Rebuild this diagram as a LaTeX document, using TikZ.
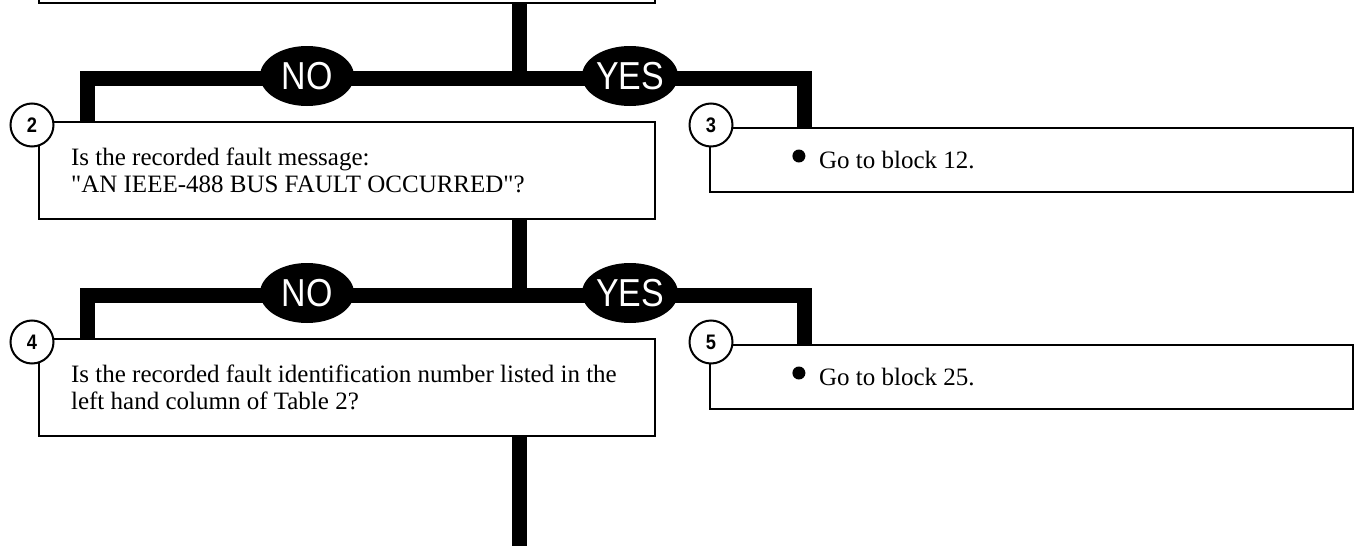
\documentclass[tikz,border=0pt]{standalone}
\usepackage{fontspec}
\setmainfont{Liberation Serif}
\newfontfamily\tagfont[FakeStretch=0.87]{Liberation Sans}
\usetikzlibrary{shapes.geometric}
\begin{document}
\begin{tikzpicture}[x=1pt,y=-1pt,
    qbox/.style={draw,line width=2.2pt,fill=white,inner sep=0pt},
    lbox/.style={qbox,minimum width=616pt,minimum height=97pt},
    rbox/.style={qbox,minimum width=643pt,minimum height=64pt},
    qtext/.style={anchor=west,inner sep=0pt,align=left,font=\fontsize{25}{27}\selectfont},
    flow/.style={line width=15pt},
    tag/.style={ellipse,fill=black,text=white,minimum width=94pt,minimum height=60pt,
      inner sep=0pt,font=\tagfont\fontsize{39}{39}\selectfont},
    num/.style={circle,draw,line width=2pt,fill=white,minimum size=43pt,inner sep=0pt,
      font=\tagfont\bfseries\fontsize{21}{21}\selectfont}]
    \useasboundingbox (0,0) rectangle (1361,546);
    \clip (0,0) rectangle (1361,546);
    \node[qbox,minimum width=616pt,minimum height=63pt] (b1) at (347,-28.5) {};
    \node[lbox] (b2) at (347,170.5) {};
    \node[rbox] (b3) at (1031.5,160) {};
    \node[lbox] (b4) at (347,387.5) {};
    \node[rbox] (b5) at (1031.5,377) {};
    \node[qtext] (t2) at ([xshift=33pt]b2.west) {Is the recorded fault message:\\\textquotedbl AN IEEE-488 BUS FAULT OCCURRED\textquotedbl?};
    \node[qtext] (t3) at ([xshift=110pt]b3.west) {Go to block 12.};
    \node[qtext] (t4) at ([xshift=33pt]b4.west) {Is the recorded fault identification number listed in the\\left hand column of Table 2?};
    \node[qtext] (t5) at ([xshift=110pt]b5.west) {Go to block 25.};
    \fill ([shift={(-20,-4)}]t3.west) circle (6.5pt);
    \fill ([shift={(-20,-4)}]t5.west) circle (6.5pt);
    \coordinate (j1) at (519,78);
    \coordinate (l1) at (87.5,78);
    \coordinate (r1) at (804.5,78);
    \coordinate (j2) at (519,295);
    \coordinate (l2) at (87.5,295);
    \coordinate (r2) at (804.5,295);
    \coordinate (e) at (519,546);
    \draw[flow] (b1.south -| j1) -- (j1);
    \draw[flow] (l1 |- b2.north) -- (l1) -- (r1) -- (r1 |- b3.north);
    \draw[flow] (b2.south -| j2) -- (j2);
    \draw[flow] (l2 |- b4.north) -- (l2) -- (r2) -- (r2 |- b5.north);
    \draw[flow] (b4.south -| e) -- (e);
    \node[tag] (no1) at (307,76) {NO};
    \node[tag] (yes1) at (630,76) {YES};
    \node[tag] (no2) at (307,293) {NO};
    \node[tag] (yes2) at (630,293) {YES};
    \node[num] (n2) at (32,125) {2};
    \node[num] (n3) at (711,125) {3};
    \node[num] (n4) at (32,342) {4};
    \node[num] (n5) at (711,342) {5};
\end{tikzpicture}
\end{document}
